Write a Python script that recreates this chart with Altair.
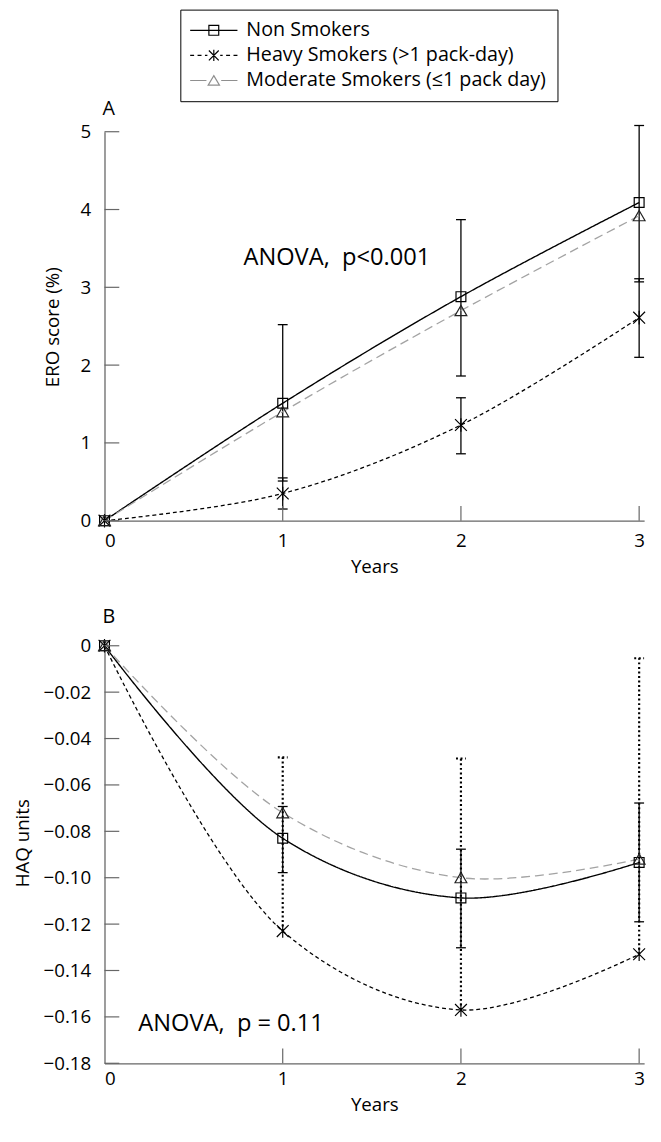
import altair as alt
import pandas as pd

FONT = "Open Sans"

# ---------------- data ----------------
years = [0, 1, 2, 3]
series_names = ["Non Smokers", "Heavy Smokers (>1 pack-day)", "Moderate Smokers (≤1 pack day)"]

# Panel A: ERO score (%)
ero_non = [0.0, 1.51, 2.88, 4.09]
ero_heavy = [0.0, 0.35, 1.23, 2.61]
ero_moderate = [0.0, 1.40, 2.70, 3.92]

ero_bar_years = [1, 2, 3, 1, 2, 3]
ero_bar_low = [0.51, 1.86, 3.07, 0.15, 0.86, 2.10]
ero_bar_high = [2.52, 3.87, 5.08, 0.55, 1.58, 3.11]

# Panel B: HAQ units
haq_non = [0.0, -0.083, -0.1087, -0.0934]
haq_heavy = [0.0, -0.123, -0.157, -0.133]
haq_moderate = [0.0, -0.072, -0.100, -0.092]

haq_solid_years = [1, 2, 3]
haq_solid_low = [-0.0978, -0.1302, -0.119]
haq_solid_high = [-0.0693, -0.0877, -0.0678]

haq_dot_years = [1, 2, 3]
haq_dot_low = [-0.123, -0.157, -0.133]
haq_dot_high = [-0.0481, -0.0486, -0.0054]

x_tick_values = [0, 1, 2, 3]
ero_y_ticks = [0, 1, 2, 3, 4, 5]
haq_y_ticks = [0, -0.02, -0.04, -0.06, -0.08, -0.10, -0.12, -0.14, -0.16, -0.18]

annot_a_text = ["ANOVA,\u00a0 p<0.001"]
annot_a_x = [0.78]
annot_a_y = [3.38]
annot_b_text = ["ANOVA,\u00a0 p = 0.11"]
annot_b_x = [0.19]
annot_b_y = [-0.163]

# ---------------- styles ----------------
W = 548
XMAX = 3.028
HA = 395
HB = 424
AXC = "#666666"

SQUARE = "M-1,-1H1V1H-1Z"
STAR = "M-1,-1L1,1M-1,1L1,-1M0,-1.15V1.15"
TRI = "M0,-0.9L1,0.85H-1Z"

styles = {
    series_names[0]: dict(color="black", dash=[1, 0], width=1.4, shape=SQUARE, size=100, pcolor="black"),
    series_names[1]: dict(color="black", dash=[4, 3], width=1.3, shape=STAR, size=144, pcolor="black"),
    series_names[2]: dict(color="#a3a3a3", dash=[9, 5], width=1.3, shape=TRI, size=144, pcolor="#222222"),
}

LEG_NON = "M-4.8,0H4.8M-1,-1H1V1H-1Z"
LEG_HEAVY = ("M-4.8,0H-4.0M-3.3,0H-2.5M-1.8,0H-1.3M1.3,0H1.8M2.5,0H3.3M4.0,0H4.8"
             "M-1,-1L1,1M-1,1L1,-1M0,-1.15V1.15")
LEG_MOD = "M-4.8,0H-1.5M1.5,0H4.8M0,-1L1.15,0.95H-1.15Z"


def long_df(vals_list):
    rows = []
    for name, vals in zip(series_names, vals_list):
        for yr, v in zip(years, vals):
            rows.append({"year": yr, "value": v, "series": name})
    return pd.DataFrame(rows)


def build_panel(df, ydomain, H, yaxis, xaxis, bars_solid, bars_dot, yticks,
                annot, title_params, legend_layer=False):
    yscale = alt.Scale(domain=ydomain, nice=False, zero=False)
    xscale = alt.Scale(domain=[0, XMAX], nice=False, zero=False)

    def X(field="year"):
        return alt.X(f"{field}:Q", scale=xscale, axis=xaxis)

    def Y(field="value"):
        return alt.Y(f"{field}:Q", scale=yscale, axis=yaxis)

    layers = []

    # error bars (solid)
    bs = pd.DataFrame({"year": bars_solid[0], "low": bars_solid[1], "high": bars_solid[2]})
    base = alt.Chart(bs)
    layers.append(base.mark_rule(color="black", strokeWidth=1.3).encode(
        x=X(), y=Y("low"), y2="high:Q"))
    for col in ["low", "high"]:
        layers.append(base.mark_rule(color="black", strokeWidth=1.3, xOffset=-5, x2Offset=5).encode(
            x=X(), x2="year:Q", y=Y(col)))

    # error bars (dotted, one-sided)
    if bars_dot is not None:
        bd = pd.DataFrame({"year": bars_dot[0], "low": bars_dot[1], "high": bars_dot[2]})
        based = alt.Chart(bd)
        layers.append(based.mark_rule(color="black", strokeWidth=2.2, strokeDash=[2, 2.6]).encode(
            x=X(), y=Y("low"), y2="high:Q"))
        layers.append(based.mark_rule(color="black", strokeWidth=2.2, strokeDash=[2, 2.6],
                                      xOffset=-5, x2Offset=5).encode(
            x=X(), x2="year:Q", y=Y("high")))

    # lines
    for name in series_names:
        st = styles[name]
        layers.append(alt.Chart(df).transform_filter(alt.datum.series == name).mark_line(
            color=st["color"], strokeDash=st["dash"], strokeWidth=st["width"],
            interpolate="catmull-rom").encode(x=X(), y=Y()))

    # points
    for name in series_names:
        st = styles[name]
        layers.append(alt.Chart(df).transform_filter(alt.datum.series == name).mark_point(
            shape=st["shape"], size=st["size"], filled=False, color=st["pcolor"],
            strokeWidth=1.2, opacity=1).encode(x=X(), y=Y()))

    # annotation
    adf = pd.DataFrame({"year": annot[1], "value": annot[2], "label": annot[0]})
    layers.append(alt.Chart(adf).mark_text(align="left", baseline="middle", fontSize=24,
                                           font=FONT, color="black").encode(
        x=X(), y=Y(), text="label:N"))

    # inward ticks
    ydf = pd.DataFrame({"value": yticks})
    layers.append(alt.Chart(ydf).mark_rule(color=AXC, strokeWidth=1.2).encode(
        y=Y(), x=alt.value(0), x2=alt.value(15)))
    xdf = pd.DataFrame({"year": x_tick_values[1:]})
    layers.append(alt.Chart(xdf).mark_rule(color=AXC, strokeWidth=1.2).encode(
        x=X(), y=alt.value(H), y2=alt.value(H - 15)))

    # legend (only panel A)
    if legend_layer:
        leg = alt.Legend(
            title=None, orient="none", legendX=77, legendY=-124, direction="vertical",
            strokeColor="black", padding=11, rowPadding=5.5, symbolSize=100,
            symbolStrokeWidth=1.2, symbolOpacity=1, symbolOffset=13, labelOffset=23,
            labelFont=FONT, labelFontSize=20, labelColor="black", labelLimit=500,
            symbolFillColor="transparent")
        layers.append(alt.Chart(df).mark_point(opacity=0, filled=False).encode(
            x=X(), y=Y(),
            shape=alt.Shape("series:N", scale=alt.Scale(domain=series_names,
                                                        range=[LEG_NON, LEG_HEAVY, LEG_MOD]),
                            legend=leg),
            color=alt.Color("series:N", scale=alt.Scale(domain=series_names,
                                                        range=["black", "black", "#8f8f8f"]),
                            legend=leg)))

    return alt.layer(*layers).properties(width=W, height=H, title=title_params)


def x_axis(label_pad, title_pad):
    return alt.Axis(values=x_tick_values, format="d", ticks=False, tickSize=0, grid=False,
                    domainColor=AXC, domainWidth=1.3, labelFontSize=19, labelFont=FONT,
                    labelColor="black", labelPadding=label_pad, title="Years",
                    titleFontSize=19, titleFont=FONT, titleFontWeight="normal",
                    titleColor="black", titlePadding=title_pad)


ya = alt.Axis(values=ero_y_ticks, format="d", ticks=False, tickSize=0, grid=False,
              domainColor=AXC, domainWidth=1.3, labelFontSize=19, labelFont=FONT,
              labelColor="black", labelPadding=14, title="ERO score (%)",
              titleFontSize=19, titleFont=FONT, titleFontWeight="normal", titleColor="black",
              titleX=-43, titleY=198)

yb = alt.Axis(values=haq_y_ticks, ticks=False, tickSize=0, grid=False,
              labelExpr="datum.value == 0 ? '0' : format(datum.value, '.2f')",
              domainColor=AXC, domainWidth=1.3, labelFontSize=19, labelFont=FONT,
              labelColor="black", labelPadding=14, title="HAQ units",
              titleFontSize=19, titleFont=FONT, titleFontWeight="normal", titleColor="black",
              titleX=-73, titleY=200)

dfA = long_df([ero_non, ero_heavy, ero_moderate])
dfB = long_df([haq_non, haq_heavy, haq_moderate])

panelA = build_panel(
    dfA, [0, 5], HA, ya, x_axis(11, 8),
    (ero_bar_years, ero_bar_low, ero_bar_high), None, ero_y_ticks,
    (annot_a_text, annot_a_x, annot_a_y),
    alt.TitleParams("A", anchor="start", frame="group", fontSize=20, font=FONT,
                    fontWeight="normal", color="black", offset=4, dx=-2),
    legend_layer=True)

panelB = build_panel(
    dfB, [-0.18, 0], HB, yb, x_axis(7, 7),
    (haq_solid_years, haq_solid_low, haq_solid_high),
    (haq_dot_years, haq_dot_low, haq_dot_high), haq_y_ticks,
    (annot_b_text, annot_b_x, annot_b_y),
    alt.TitleParams("B", anchor="start", frame="group", fontSize=20, font=FONT,
                    fontWeight="normal", color="black", offset=10, dx=-2))

chart = alt.vconcat(panelA, panelB, spacing=30).properties(
    padding={"top": -8, "left": 6, "right": 0, "bottom": 0}).configure(
    font=FONT).configure_view(stroke=None)

chart.save("out.html", embed_options={"renderer": "svg", "actions": False})
